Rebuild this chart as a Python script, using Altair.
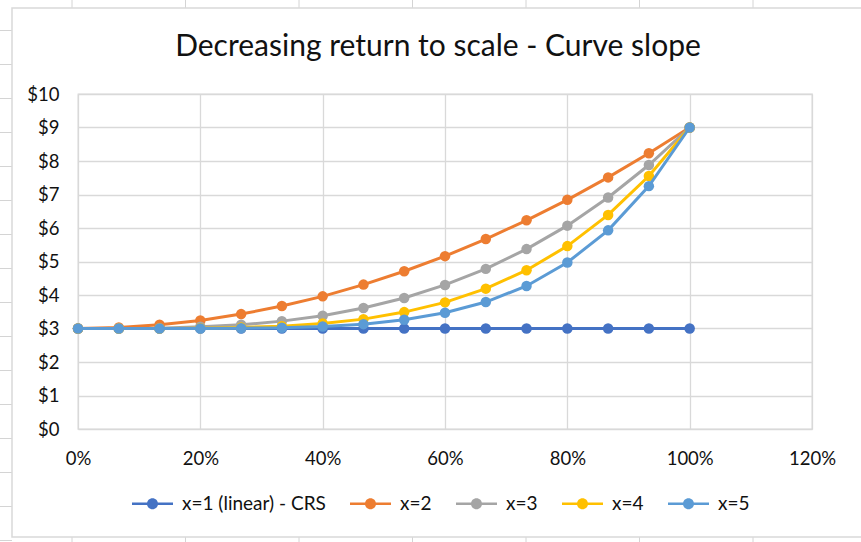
import altair as alt
import pandas as pd

# Share of capacity used (x axis) and cost per unit for each curve exponent
pct = [0.0, 0.0667, 0.1333, 0.2, 0.2667, 0.3333, 0.4, 0.4667,
       0.5333, 0.6, 0.6667, 0.7333, 0.8, 0.8667, 0.9333, 1.0]
linear = [3.00, 3.00, 3.00, 3.00, 3.00, 3.00, 3.00, 3.00,
          3.00, 3.00, 3.00, 3.00, 3.00, 3.00, 3.00, 3.00]
x2 = [3.00, 3.03, 3.11, 3.24, 3.43, 3.67, 3.96, 4.31,
      4.71, 5.16, 5.67, 6.23, 6.84, 7.51, 8.23, 9.00]
x3 = [3.00, 3.00, 3.01, 3.05, 3.11, 3.22, 3.38, 3.61,
      3.91, 4.30, 4.78, 5.37, 6.07, 6.91, 7.88, 9.00]
x4 = [3.00, 3.00, 3.00, 3.01, 3.03, 3.07, 3.15, 3.28,
      3.49, 3.78, 4.19, 4.74, 5.46, 6.39, 7.55, 9.00]
x5 = [3.00, 3.00, 3.00, 3.00, 3.01, 3.02, 3.06, 3.13,
      3.26, 3.47, 3.79, 4.27, 4.97, 5.93, 7.25, 9.00]

series_names = ["x=1 (linear) - CRS", "x=2", "x=3", "x=4", "x=5"]
series_values = [linear, x2, x3, x4, x5]
series_colors = ["#4472C4", "#ED7D31", "#A5A5A5", "#FFC000", "#5B9BD5"]

x_ticks = [0, 0.2, 0.4, 0.6, 0.8, 1.0, 1.2]
y_ticks = [0, 1, 2, 3, 4, 5, 6, 7, 8, 9, 10]
title_text = "Decreasing return to scale - Curve slope"

# Page / plot geometry (pixels)
W, H = 861, 542
OX, OY = 78, 94           # top-left corner of the plot area
PW, PH = 734, 335         # plot area size
FONT = "Lato"
INK = "#111111"
GRID = "#d9d9d9"
SHEET = "#d4d4d4"

# Chart object frame on the worksheet, and the worksheet cell grid around it
FRAME_L, FRAME_T, FRAME_R, FRAME_B = 12, 8, W + 6, 537
sheet_cols = [72, 185.5, 299, 412.5, 526, 639.5, 753]
sheet_rows = [30.5 + 34 * k for k in range(16)]

rows = []
for name, vals in zip(series_names, series_values):
    for p, v in zip(pct, vals):
        rows.append({"pct": p, "cost": v, "series": name})
df = pd.DataFrame(rows)

color_scale = alt.Scale(domain=series_names, range=series_colors)
x_enc = alt.X("pct:Q", scale=alt.Scale(domain=[0, 1.2], nice=False),
              axis=alt.Axis(values=x_ticks, format=".0%", title=None,
                            labelFlush=False))
y_enc = alt.Y("cost:Q", scale=alt.Scale(domain=[0, 10], nice=False),
              axis=alt.Axis(values=y_ticks, format="$.0f", title=None))

# Cell grid pieces visible outside the chart frame
col_top = alt.Chart(alt.Data(values=[{"gx": c - OX} for c in sheet_cols])).mark_rule(
    color=SHEET, strokeWidth=1
).encode(x=alt.X("gx:Q", scale=None), y=alt.value(-OY), y2=alt.value(FRAME_T - OY))
col_bottom = alt.Chart(alt.Data(values=[{"gx": c - OX} for c in sheet_cols])).mark_rule(
    color=SHEET, strokeWidth=1
).encode(x=alt.X("gx:Q", scale=None), y=alt.value(FRAME_B - OY), y2=alt.value(H - OY))
row_left = alt.Chart(alt.Data(values=[{"gy": r - OY} for r in sheet_rows])).mark_rule(
    color=SHEET, strokeWidth=1
).encode(y=alt.Y("gy:Q", scale=None), x=alt.value(-OX), x2=alt.value(FRAME_L - OX))

frame = alt.Chart(alt.Data(values=[{}])).mark_rect(
    fillOpacity=0, stroke="#d9d9d9", strokeWidth=1.5
).encode(x=alt.value(FRAME_L - OX), x2=alt.value(FRAME_R - OX),
         y=alt.value(FRAME_T - OY), y2=alt.value(FRAME_B - OY))

title = alt.Chart(alt.Data(values=[{"t": title_text}])).mark_text(
    font=FONT, fontSize=30, color=INK, align="center", baseline="alphabetic"
).encode(text="t:N", x=alt.value(438 - OX), y=alt.value(56 - OY))

layers = [col_top, col_bottom, row_left, frame, title]
for name, col in zip(series_names, series_colors):
    sub = alt.Chart(df).transform_filter(alt.datum.series == name)
    line = sub.mark_line(strokeWidth=3, color=col).encode(x=x_enc, y=y_enc)
    pts = sub.mark_point(filled=True, size=110, opacity=1).encode(
        x=x_enc, y=y_enc,
        color=alt.Color("series:N", scale=color_scale, sort=series_names,
                        legend=alt.Legend(title=None)),
    )
    layers += [line, pts]

# Legend glyph: a short line with a dot in the middle
legend_glyph = ("M-1,-0.06H1V0.06H-1Z "
                "M-0.27,0A0.27,0.27 0 1,1 0.27,0A0.27,0.27 0 1,1 -0.27,0Z")

chart = alt.layer(*layers).properties(
    width=PW, height=PH,
    padding={"left": OX, "top": OY, "right": W - OX - PW, "bottom": H - OY - PH},
    autosize=alt.AutoSizeParams(type="none"),
).configure(background="white").configure_view(
    stroke=GRID, strokeWidth=1.3
).configure_axis(
    labelFont=FONT, labelFontSize=18.5, labelColor=INK,
    domain=False, ticks=False, grid=True, gridColor=GRID, gridWidth=1.3,
).configure_axisX(labelPadding=20).configure_axisY(labelPadding=19).configure_legend(
    orient="none", legendX=54, legendY=389, direction="horizontal",
    symbolType=legend_glyph, symbolSize=1681, symbolStrokeWidth=0,
    symbolOpacity=1, labelFont=FONT, labelFontSize=19, labelColor=INK,
    labelOffset=9, columnPadding=24, padding=0,
)

chart.save("out.html", embed_options={"renderer": "svg", "actions": False})
